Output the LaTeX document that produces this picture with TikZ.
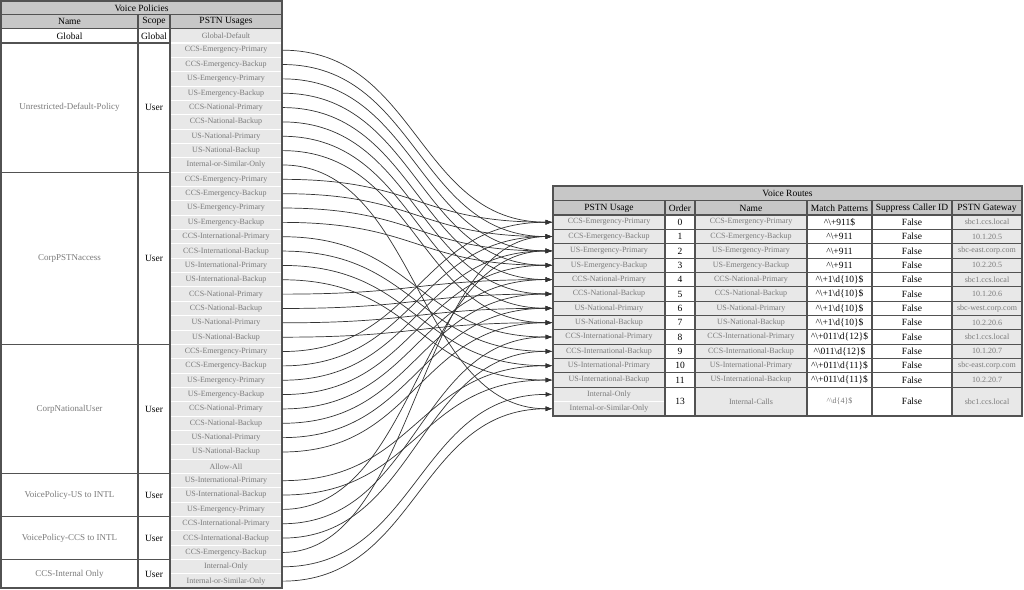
\documentclass[tikz,border=0pt]{standalone}
\usepackage{fontspec}
\setmainfont{Liberation Serif}
\usetikzlibrary{arrows.meta}
\definecolor{hdr}{gray}{0.78}
\definecolor{blur}{gray}{0.48}
\definecolor{cellbg}{gray}{0.91}
\definecolor{rulec}{gray}{0.32}
\newcommand\mycar{\textasciicircum}
\newcommand\mybs{\textbackslash}
\tikzset{
  tcell/.style={inner sep=0pt, font=\fontsize{9.5}{10}\selectfont, text=black},
  bname/.style={inner sep=0pt, font=\fontsize{9}{10}\selectfont, text=blur},
  bcell/.style={inner sep=0pt, minimum width=112pt, minimum height=14.35pt, fill=cellbg, draw=white, line width=1pt, font=\fontsize{8}{9}\selectfont, text=blur},
  gcell/.style={bcell, minimum width=70pt},
  conn/.style={draw=black!80, line width=0.7pt, -{Latex[length=7pt,width=5pt]}},
  frame/.style={draw=rulec, line width=1.1pt},
}
\newcommand\rrow[6]{%
  \node[bcell] (P#1) at (609,{222.2+14.35*#1}) {#2};
  \node[tcell] (O#1) at (680,{222.2+14.35*#1}) {#1};
  \node[bcell] (N#1) at (751,{222.2+14.35*#1}) {#3};
  \node[tcell] (M#1) at (839.5,{222.2+14.35*#1}) {#4};
  \node[tcell] (S#1) at (912,{222.2+14.35*#1}) {#6};
  \node[gcell] (W#1) at (987,{222.2+14.35*#1}) {#5};
}
\begin{document}
\begin{tikzpicture}[x=1pt,y=-1pt]
\useasboundingbox (0,0) rectangle (1024,589);
\fill[white] (0,0) rectangle (1024,589);

% ---------------- Voice Policies ----------------
\fill[hdr] (1,1) rectangle (282,28.5);
\node[tcell] (vpt) at (141.5,7.9) {Voice Policies};
\node[tcell] (vph1) at (69.5,21.7) {Name};
\node[tcell] (vph2) at (154,21.7) {Scope};
\node[tcell] (vph3) at (226,21.7) {PSTN Usages};

\node[tcell] (gn) at (69.5,35.9) {Global};
\node[tcell] (gs) at (154,35.9) {Global};
\node[bcell] (G) at (226,35.75) {Global-Default};

\node[bname] (n1) at (69.5,107.6) {Unrestricted-Default-Policy};
\node[tcell] (s1) at (154,107.6) {User};
\node[bname] (n2) at (69.5,258.3) {CorpPSTNaccess};
\node[tcell] (s2) at (154,258.3) {User};
\node[bname] (n3) at (69.5,408.95) {CorpNationalUser};
\node[tcell] (s3) at (154,408.95) {User};
\node[bname] (n4) at (69.5,495) {VoicePolicy-US to INTL};
\node[tcell] (s4) at (154,495) {User};
\node[bname] (n5) at (69.5,538) {VoicePolicy-CCS to INTL};
\node[tcell] (s5) at (154,538) {User};
\node[bname] (n6) at (69.5,574) {CCS-Internal Only};
\node[tcell] (s6) at (154,574) {User};

\foreach \k/\t in {0/CCS-Emergency-Primary,1/CCS-Emergency-Backup,2/US-Emergency-Primary,3/US-Emergency-Backup,4/CCS-National-Primary,5/CCS-National-Backup,6/US-National-Primary,7/US-National-Backup,8/Internal-or-Similar-Only,
  9/CCS-Emergency-Primary,10/CCS-Emergency-Backup,11/US-Emergency-Primary,12/US-Emergency-Backup,13/CCS-International-Primary,14/CCS-International-Backup,15/US-International-Primary,16/US-International-Backup,17/CCS-National-Primary,18/CCS-National-Backup,19/US-National-Primary,20/US-National-Backup,
  21/CCS-Emergency-Primary,22/CCS-Emergency-Backup,23/US-Emergency-Primary,24/US-Emergency-Backup,25/CCS-National-Primary,26/CCS-National-Backup,27/US-National-Primary,28/US-National-Backup,29/Allow-All,
  30/US-International-Primary,31/US-International-Backup,32/US-Emergency-Primary,
  33/CCS-International-Primary,34/CCS-International-Backup,35/CCS-Emergency-Backup,
  36/Internal-Only,37/Internal-or-Similar-Only}
  \node[bcell] (U\k) at (226,{50.175+14.35*\k}) {\t};

\draw[frame] (1,1) rectangle (282,588);
\draw[frame] (1,14.5) -- (282,14.5) (1,28.5) -- (282,28.5);
\draw[frame] (138,14.5) -- (138,588) (170,14.5) -- (170,588);
\foreach \yy in {43,172.2,344.4,473.5,516.5,559.6} \draw[frame] (1,\yy) -- (170,\yy);

% ---------------- Voice Routes ----------------
\fill[hdr] (553,186) rectangle (1022,215);
\node[tcell] (vrt) at (787.5,193.4) {Voice Routes};
\node[tcell] (vrh1) at (609,208) {PSTN Usage};
\node[tcell] (vrh2) at (680,208) {Order};
\node[tcell] (vrh3) at (751,208) {Name};
\node[tcell] (vrh4) at (839.5,208) {Match Patterns};
\node[tcell] (vrh5) at (912,208) {Suppress Caller ID};
\node[tcell] (vrh6) at (987,208) {PSTN Gateway};

\rrow{0}{CCS-Emergency-Primary}{CCS-Emergency-Primary}{\mycar\mybs+911\$}{sbc1.ccs.local}{False}
\rrow{1}{CCS-Emergency-Backup}{CCS-Emergency-Backup}{\mycar\mybs+911}{10.1.20.5}{False}
\rrow{2}{US-Emergency-Primary}{US-Emergency-Primary}{\mycar\mybs+911}{sbc-east.corp.com}{False}
\rrow{3}{US-Emergency-Backup}{US-Emergency-Backup}{\mycar\mybs+911}{10.2.20.5}{False}
\rrow{4}{CCS-National-Primary}{CCS-National-Primary}{\mycar\mybs+1\mybs d\{10\}\$}{sbc1.ccs.local}{False}
\rrow{5}{CCS-National-Backup}{CCS-National-Backup}{\mycar\mybs+1\mybs d\{10\}\$}{10.1.20.6}{False}
\rrow{6}{US-National-Primary}{US-National-Primary}{\mycar\mybs+1\mybs d\{10\}\$}{sbc-west.corp.com}{False}
\rrow{7}{US-National-Backup}{US-National-Backup}{\mycar\mybs+1\mybs d\{10\}\$}{10.2.20.6}{False}
\rrow{8}{CCS-International-Primary}{CCS-International-Primary}{\mycar\mybs+011\mybs d\{12\}\$}{sbc1.ccs.local}{False}
\rrow{9}{CCS-International-Backup}{CCS-International-Backup}{\mycar\mybs 011\mybs d\{12\}\$}{10.1.20.7}{False}
\rrow{10}{US-International-Primary}{US-International-Primary}{\mycar\mybs+011\mybs d\{11\}\$}{sbc-east.corp.com}{False}
\rrow{11}{US-International-Backup}{US-International-Backup}{\mycar\mybs+011\mybs d\{11\}\$}{10.2.20.7}{False}
\node[bcell] (P12) at (609,394.4) {Internal-Only};
\node[bcell] (P13) at (609,408.75) {Internal-or-Similar-Only};
\node[tcell] (O12) at (680,401.6) {13};
\node[bcell, minimum height=28.7pt] (N12) at (751,401.6) {Internal-Calls};
\node[bname, font=\fontsize{8}{9}\selectfont] (M12) at (839.5,401.6) {\mycar\mybs d\{4\}\$};
\node[tcell] (S12) at (912,401.6) {False};
\node[gcell, minimum height=28.7pt] (W12) at (987,401.6) {sbc1.ccs.local};

\draw[frame] (553,186) rectangle (1022,416);
\draw[frame] (553,200.5) -- (1022,200.5) (553,215) -- (1022,215);
\foreach \i in {1,...,12} \draw[frame] (553,{215+14.35*\i}) -- (1022,{215+14.35*\i});
\foreach \xx in {665,695,807,872,952} \draw[frame] (\xx,200.5) -- (\xx,416);

% ---------------- connectors ----------------
\foreach \k/\r in {0/0,1/1,2/2,3/3,4/4,5/5,6/6,7/7,8/13,
  9/0,10/1,11/2,12/3,13/8,14/9,15/10,16/11,17/4,18/5,19/6,20/7,
  21/0,22/1,23/2,24/3,25/4,26/5,27/6,28/7,
  30/10,31/11,32/2,33/8,34/9,35/1,36/12,37/13}
  \draw[conn] (U\k.east) .. controls +(135,0) and +(-135,0) .. (P\r.west);
\end{tikzpicture}
\end{document}
